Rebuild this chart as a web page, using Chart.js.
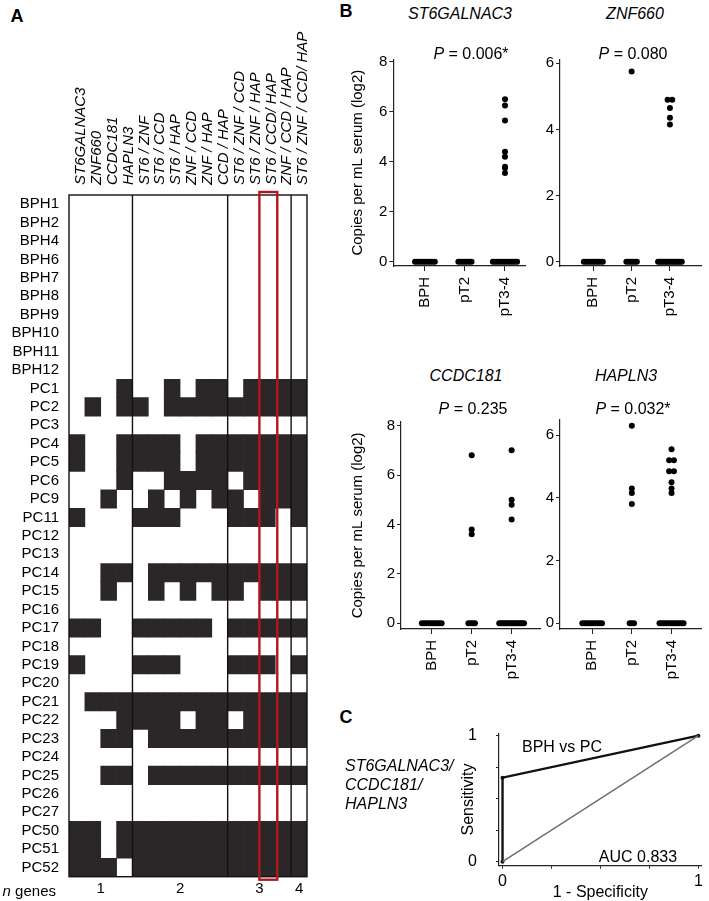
<!DOCTYPE html>
<html>
<head>
<meta charset="utf-8">
<title>Serum methylation panel</title>
<script src="https://cdn.jsdelivr.net/npm/chart.js@4.4.1/dist/chart.umd.min.js"></script>
<style>
  html, body { margin: 0; padding: 0; background: #fff; }
  body { width: 709px; height: 901px; position: relative; overflow: hidden;
         font-family: 'Liberation Sans', Arial, sans-serif; color: #000; }
  .box { position: absolute; }
  .t { position: absolute; white-space: nowrap; line-height: 1; font-size: 16px; transform: translate(-50%, -50%); }
  .tl { position: absolute; white-space: nowrap; line-height: 1; font-size: 16px; font-style: italic; transform: translate(0, -50%); }
  .panel { position: absolute; line-height: 1; font-size: 18px; font-weight: bold; transform: translate(-50%, -50%); }
  i { font-style: italic; }
</style>
</head>
<body>

<div class="panel" style="left:17px;top:16px">A</div>
<div class="panel" style="left:346px;top:11px">B</div>
<div class="panel" style="left:346px;top:717px">C</div>

<div class="box" style="left:0;top:0;width:320px;height:901px"><canvas id="heat"></canvas></div>
<div class="box" style="left:340px;top:40px;width:190px;height:286px"><canvas id="p1"></canvas></div>
<div class="box" style="left:530px;top:40px;width:179px;height:286px"><canvas id="p2"></canvas></div>
<div class="box" style="left:340px;top:400px;width:205px;height:289px"><canvas id="p3"></canvas></div>
<div class="box" style="left:530px;top:400px;width:179px;height:289px"><canvas id="p4"></canvas></div>
<div class="box" style="left:440px;top:704px;width:269px;height:200px"><canvas id="roc"></canvas></div>

<div class="t" style="left:460px;top:14px"><i>ST6GALNAC3</i></div>
<div class="t" style="left:635px;top:14px"><i>ZNF660</i></div>
<div class="t" style="left:471px;top:54px"><i>P</i> = 0.006*</div>
<div class="t" style="left:633px;top:54px"><i>P</i> = 0.080</div>
<div class="t" style="left:466px;top:376px"><i>CCDC181</i></div>
<div class="t" style="left:626px;top:376px"><i>HAPLN3</i></div>
<div class="t" style="left:473px;top:409px"><i>P</i> = 0.235</div>
<div class="t" style="left:633px;top:409px"><i>P</i> = 0.032*</div>

<div class="t" style="left:562px;top:747px">BPH vs PC</div>
<div class="t" style="left:638px;top:857px">AUC 0.833</div>
<div class="tl" style="left:345px;top:766px">ST6GALNAC3/</div>
<div class="tl" style="left:345px;top:785px">CCDC181/</div>
<div class="tl" style="left:345px;top:804px">HAPLN3</div>

<div class="t" style="left:56px;top:890px;transform:translate(-100%,-50%);font-size:15px"><i>n</i> genes</div>

<script>
Chart.defaults.font.family = "'Liberation Sans', Arial, sans-serif";
Chart.defaults.font.size = 15;
Chart.defaults.color = '#000';

// ---- panel A: methylation calls per sample ----
const rowLabels = ['BPH1', 'BPH2', 'BPH4', 'BPH6', 'BPH7', 'BPH8', 'BPH9', 'BPH10', 'BPH11', 'BPH12',
  'PC1', 'PC2', 'PC3', 'PC4', 'PC5', 'PC6', 'PC9', 'PC11', 'PC12', 'PC13', 'PC14', 'PC15', 'PC16',
  'PC17', 'PC18', 'PC19', 'PC20', 'PC21', 'PC22', 'PC23', 'PC24', 'PC25', 'PC26', 'PC27',
  'PC50', 'PC51', 'PC52'];
const markerLabels = ['ST6GALNAC3', 'ZNF660', 'CCDC181', 'HAPLN3',
  'ST6 / ZNF', 'ST6 / CCD', 'ST6 / HAP', 'ZNF / CCD', 'ZNF / HAP', 'CCD / HAP',
  'ST6 / ZNF / CCD', 'ST6 / ZNF / HAP', 'ST6 / CCD/ HAP', 'ZNF / CCD / HAP', 'ST6 / ZNF / CCD/ HAP'];
// one string per sample, one char per marker column (1 = positive)
const calls = [
  '000000000000000', // BPH1
  '000000000000000',
  '000000000000000',
  '000000000000000',
  '000000000000000',
  '000000000000000',
  '000000000000000',
  '000000000000000',
  '000000000000000',
  '000000000000000', // BPH12
  '000100101101111', // PC1
  '010110111111111', // PC2
  '000000000000000', // PC3
  '100111101111111', // PC4
  '100111101111111', // PC5
  '000100111101111', // PC6
  '001001010110111', // PC9
  '100011100011101', // PC11
  '000000000000000', // PC12
  '000000000000000', // PC13
  '001101111111111', // PC14
  '001001010110111', // PC15
  '000000000000000', // PC16
  '110011111011111', // PC17
  '000000000000000', // PC18
  '100011100011101', // PC19
  '000000000000000', // PC20
  '011111111111111', // PC21
  '000111101101111', // PC22
  '001101111111111', // PC23
  '000000000000000', // PC24
  '001101111111111', // PC25
  '000000000000000', // PC26
  '000000000000000', // PC27
  '110111111111111', // PC50
  '110111111111111', // PC51
  '111011111111111', // PC52
];
const geneGroups = ['1', '2', '3', '4'];
const groupEdges = [0, 4, 10, 14, 15];
const highlightCol = 12;

// ---- panel B: copies per mL serum (log2) by stage ----
const stages = ['BPH', 'pT2', 'pT3-4'];
const st6galnac3 = [
  [0, 0, 0, 0, 0, 0, 0, 0, 0, 0],
  [0, 0, 0, 0, 0, 0, 0],
  [6.5, 6.25, 5.65, 4.4, 4.2, 3.8, 3.75, 3.55, 0, 0, 0, 0, 0, 0, 0, 0, 0, 0, 0, 0],
];
const znf660 = [
  [0, 0, 0, 0, 0, 0, 0, 0, 0, 0],
  [5.75, 0, 0, 0, 0, 0, 0],
  [4.9, 4.9, 4.65, 4.35, 4.15, 0, 0, 0, 0, 0, 0, 0, 0, 0, 0, 0, 0, 0, 0, 0],
];
const ccdc181 = [
  [0, 0, 0, 0, 0, 0, 0, 0, 0, 0],
  [6.8, 3.8, 3.6, 0, 0, 0, 0],
  [7.0, 5.0, 4.8, 4.2, 0, 0, 0, 0, 0, 0, 0, 0, 0, 0, 0, 0, 0, 0, 0, 0],
];
const hapln3 = [
  [0, 0, 0, 0, 0, 0, 0, 0, 0, 0],
  [6.3, 4.3, 4.15, 3.8, 0, 0, 0],
  [5.55, 5.2, 5.2, 4.85, 4.85, 4.5, 4.3, 4.15, 0, 0, 0, 0, 0, 0, 0, 0, 0, 0, 0, 0],
];

// ---- panel C: ROC ----
const rocFpr = [0, 0, 1];
const rocTpr = [0, 0.667, 1];
const chanceFpr = [0, 1];
const chanceTpr = [0, 1];

const DARK = '#2b2728';
const AXIS = '#222';

const heatSets = markerLabels.map((m, k) => ({
  label: m,
  data: calls.map(c => c[k] === '1' ? [k, k + 1] : null),
  backgroundColor: DARK,
  borderWidth: 0,
  grouped: false,
  barPercentage: 1,
  categoryPercentage: 1,
  xAxisID: 'x',
  yAxisID: 'y',
}));

const groupCentres = geneGroups.map((g, i) => (groupEdges[i] + groupEdges[i + 1]) / 2);

const heatFrame = {
  id: 'heatFrame',
  afterDatasetsDraw(chart) {
    const { ctx, chartArea: a, scales: { x } } = chart;
    ctx.save();
    ctx.strokeStyle = '#111';
    ctx.lineWidth = 1.4;
    ctx.strokeRect(a.left, a.top, a.right - a.left, a.bottom - a.top);
    groupEdges.slice(1, -1).forEach(v => {
      const px = x.getPixelForValue(v);
      ctx.beginPath();
      ctx.moveTo(px, a.top);
      ctx.lineTo(px, a.bottom);
      ctx.stroke();
    });
    const l = x.getPixelForValue(highlightCol);
    const r = x.getPixelForValue(highlightCol + 1) + 2;
    ctx.strokeStyle = '#b3171d';
    ctx.lineWidth = 2.4;
    ctx.strokeRect(l, a.top - 3, r - l, a.bottom - a.top + 6);
    ctx.restore();
  }
};

const noGrid = { display: false, drawTicks: false };

new Chart(document.getElementById('heat'), {
  type: 'bar',
  data: { labels: rowLabels, datasets: heatSets },
  options: {
    indexAxis: 'y',
    responsive: true,
    maintainAspectRatio: false,
    animation: false,
    layout: { padding: { left: 0, right: 13, top: 0, bottom: 0 } },
    plugins: { legend: { display: false }, tooltip: { enabled: false } },
    scales: {
      y: {
        type: 'category',
        offset: true,
        grid: noGrid,
        border: { display: false },
        ticks: { padding: 10, autoSkip: false },
        afterFit: s => { s.width = 69; },
      },
      x: {
        type: 'linear',
        position: 'bottom',
        min: 0,
        max: 15,
        grid: noGrid,
        border: { display: false },
        afterBuildTicks: s => { s.ticks = groupCentres.map(v => ({ value: v })); },
        ticks: { padding: 3, maxRotation: 0, callback: (v, i) => geneGroups[i] },
        afterFit: s => { s.height = 24.3; },
      },
      xTop: {
        type: 'category',
        position: 'top',
        labels: markerLabels,
        offset: true,
        grid: noGrid,
        border: { display: false },
        ticks: { font: { style: 'italic', size: 15 }, padding: 10, labelOffset: 22,
                 minRotation: 90, maxRotation: 90, autoSkip: false },
        afterFit: s => { s.height = 195; },
      },
    },
  },
  plugins: [heatFrame],
});

// spread tied values side by side, like a small beeswarm
function swarm(groups) {
  const pts = [];
  groups.forEach((vals, g) => {
    const counts = new Map();
    vals.forEach(v => counts.set(v, (counts.get(v) || 0) + 1));
    counts.forEach((n, v) => {
      let step = n > 2 ? 0.055 : 0.12;
      if (n > 1) step = Math.min(step, 0.62 / (n - 1));
      for (let i = 0; i < n; i++) pts.push({ x: g + (i - (n - 1) / 2) * step, y: v });
    });
  });
  return pts;
}

function stripPanel(id, groups, o) {
  return new Chart(document.getElementById(id), {
    type: 'scatter',
    data: {
      datasets: [{
        data: swarm(groups),
        pointRadius: 3,
        pointBackgroundColor: '#000',
        pointBorderWidth: 0,
      }],
    },
    options: {
      responsive: true,
      maintainAspectRatio: false,
      animation: false,
      layout: { padding: { left: 0, right: o.padRight, top: o.padTop, bottom: 0 } },
      plugins: { legend: { display: false }, tooltip: { enabled: false } },
      scales: {
        x: {
          type: 'linear',
          min: o.xMin,
          max: o.xMax,
          grid: { drawOnChartArea: false, drawTicks: true, tickLength: 5, color: AXIS },
          border: { display: true, color: AXIS, width: 1.2 },
          afterBuildTicks: s => { s.ticks = stages.map((n, i) => ({ value: i })); },
          ticks: { padding: 6, minRotation: 90, maxRotation: 90, autoSkip: false, callback: (v, i) => stages[i] },
          afterFit: s => { s.height = 60; },
        },
        y: {
          type: 'linear',
          min: o.yMin,
          max: o.yMax,
          grid: { drawOnChartArea: false, drawTicks: true, tickLength: 4, color: AXIS },
          border: { display: true, color: AXIS, width: 1.2 },
          afterBuildTicks: s => { s.ticks = o.yTicks.map(v => ({ value: v })); },
          ticks: { padding: 2 },
          title: {
            display: o.title,
            text: 'Copies per mL serum (log2)',
            padding: { top: o.titlePad, bottom: 0 },
          },
          afterFit: s => { s.width = o.yWidth; },
        },
      },
    },
  });
}

stripPanel('p1', st6galnac3, { xMin: -0.79, xMax: 2.5, yMin: -0.17, yMax: 8.1, yTicks: [0, 2, 4, 6, 8],
  yWidth: 53.3, padTop: 19.3, padRight: 5, title: true, titlePad: 9 });
stripPanel('p2', znf660, { xMin: -0.87, xMax: 2.83, yMin: -0.13, yMax: 6.1, yTicks: [0, 2, 4, 6],
  yWidth: 30, padTop: 20, padRight: 7.3, title: false, titlePad: 0 });
stripPanel('p3', ccdc181, { xMin: -0.77, xMax: 2.71, yMin: -0.23, yMax: 8.16, yTicks: [0, 2, 4, 6, 8],
  yWidth: 61, padTop: 21.7, padRight: 5, title: true, titlePad: 9.3 });
stripPanel('p4', hapln3, { xMin: -0.81, xMax: 2.76, yMin: -0.18, yMax: 6.48, yTicks: [0, 2, 4, 6],
  yWidth: 30, padTop: 20, padRight: 7.3, title: false, titlePad: 0 });

const rocTicks = [0, 0.25, 0.5, 0.75, 1];
const tickText = v => (v === 0 || v === 1) ? String(v) : '';

new Chart(document.getElementById('roc'), {
  type: 'scatter',
  data: {
    datasets: [
      {
        data: chanceFpr.map((x, i) => ({ x, y: chanceTpr[i] })),
        showLine: true,
        borderColor: '#6d6d6d',
        borderWidth: 1.4,
        pointRadius: 0,
      },
      {
        data: rocFpr.map((x, i) => ({ x, y: rocTpr[i] })),
        showLine: true,
        borderColor: '#111',
        borderWidth: 2.4,
        pointRadius: 2,
        pointBackgroundColor: '#111',
        pointBorderWidth: 0,
      },
    ],
  },
  options: {
    responsive: true,
    maintainAspectRatio: false,
    animation: false,
    layout: { padding: { left: 0, right: 7.3, top: 29.3, bottom: 0 } },
    plugins: { legend: { display: false }, tooltip: { enabled: false } },
    scales: {
      x: {
        type: 'linear',
        min: -0.018,
        max: 1.017,
        grid: { drawOnChartArea: false, drawTicks: true, tickLength: 3, color: AXIS },
        border: { display: true, color: AXIS, width: 1.2 },
        afterBuildTicks: s => { s.ticks = rocTicks.map(v => ({ value: v })); },
        ticks: { padding: 3, maxRotation: 0, autoSkip: false, font: { size: 16 }, callback: v => tickText(v) },
        title: { display: true, text: '1 - Specificity', font: { size: 16 }, padding: { top: 0, bottom: 2 } },
        afterFit: s => { s.height = 38.3; },
      },
      y: {
        type: 'linear',
        min: -0.032,
        max: 1.019,
        grid: { drawOnChartArea: false, drawTicks: true, tickLength: 3, color: AXIS },
        border: { display: true, color: AXIS, width: 1.2 },
        afterBuildTicks: s => { s.ticks = rocTicks.map(v => ({ value: v })); },
        ticks: { padding: 19, autoSkip: false, font: { size: 16 }, callback: v => tickText(v) },
        title: { display: true, text: 'Sensitivity', font: { size: 16 }, padding: { top: 19, bottom: 0 } },
        afterFit: s => { s.width = 59; },
      },
    },
  },
});
</script>
</body>
</html>
